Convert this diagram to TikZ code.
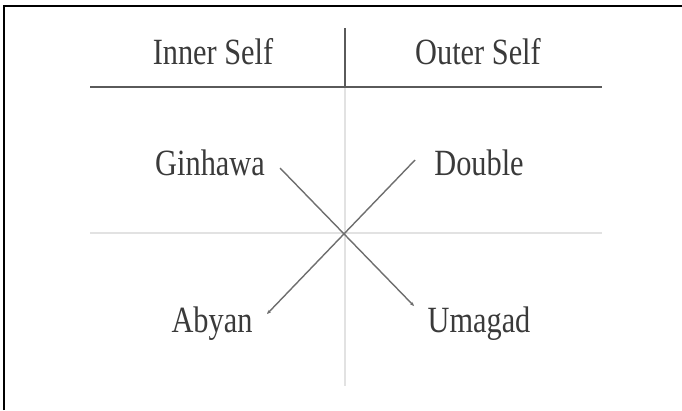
\documentclass[tikz,border=0pt]{standalone}
\usepackage{fontspec}
\setmainfont{Liberation Serif}
\usetikzlibrary{arrows.meta}
\definecolor{txt}{HTML}{3A3A3A}
\definecolor{darkrule}{HTML}{5A5A5A}
\definecolor{lightrule}{HTML}{E2E2E2}
\definecolor{arrowgray}{HTML}{6E6E6E}
\newcommand{\lbl}[1]{\scalebox{0.82}[1]{\fontsize{37}{40}\selectfont #1}}
\tikzset{
  label text/.style={anchor=base, inner sep=0pt, text=txt, font=\fontsize{37}{40}\selectfont},
  heavy rule/.style={draw=darkrule, line width=2pt},
  thin rule/.style={draw=darkrule, line width=1.2pt},
  light rule/.style={draw=lightrule, line width=1.5pt},
  frame rule/.style={draw=black, line width=2pt},
  cross arrow/.style={draw=arrowgray, line width=1.4pt, -{Stealth[length=4pt,width=3.5pt]}}
}
\begin{document}
\begin{tikzpicture}[x=1pt,y=-1pt]
\useasboundingbox (0,0) rectangle (682,410);
% frame
\coordinate (ftl) at (4,6);
\coordinate (ftr) at (682,6);
\coordinate (fbl) at (4,410);
\draw[frame rule] (fbl) -- (ftl) -- (ftr);
% rules
\coordinate (vtop) at (345,28);
\coordinate (vmid) at (345,87);
\coordinate (vbot) at (345,386);
\coordinate (hl) at (90,87);
\coordinate (hr) at (602,87);
\coordinate (ml) at (90,233);
\coordinate (mr) at (602,233);
\draw[light rule] (vmid) -- (vbot);
\draw[light rule] (ml) -- (mr);
\draw[thin rule] (vtop) -- (vmid);
\draw[heavy rule] (hl) -- (hr);
% labels
\node[label text] (inner) at (213,64) {\lbl{Inner Self}};
\node[label text] (outer) at (478,64) {\lbl{Outer Self}};
\node[label text] (ginhawa) at (210,175) {\lbl{Ginhawa}};
\node[label text] (double) at (479,175) {\lbl{Double}};
\node[label text] (abyan) at (212,332) {\lbl{Abyan}};
\node[label text] (umagad) at (479,332) {\lbl{Umagad}};
% crossing arrows
\coordinate (gstart) at (280,168);
\coordinate (uend) at (414,306);
\coordinate (dstart) at (415,160);
\coordinate (aend) at (267,314);
\draw[cross arrow] (gstart) -- (uend);
\draw[cross arrow] (dstart) -- (aend);
\end{tikzpicture}
\end{document}
